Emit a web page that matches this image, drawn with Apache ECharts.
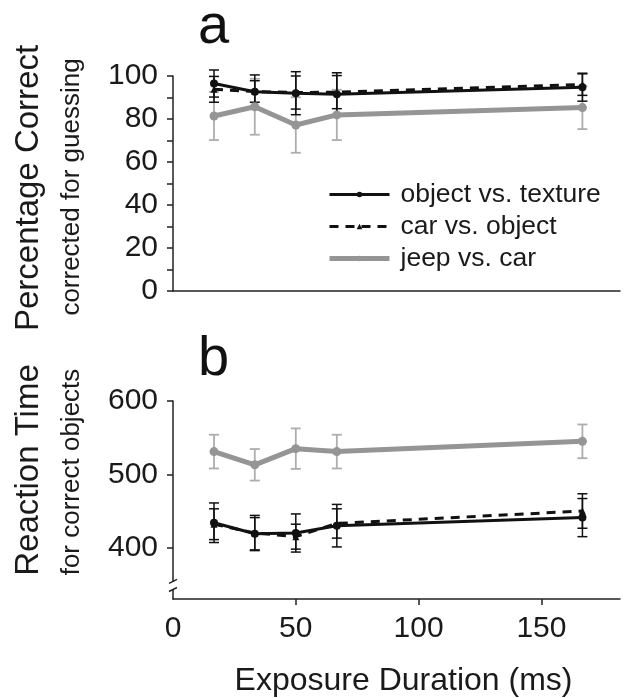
<!DOCTYPE html>
<html>
<head>
<meta charset="utf-8">
<script src="https://cdn.jsdelivr.net/npm/echarts@6/dist/echarts.min.js"></script>
<style>
html,body{margin:0;padding:0;background:#fff;}
#main{width:634px;height:698px;}
</style>
</head>
<body>
<div id="main"></div>
<script>
// ---- data ----
const durations = [16.7, 33.3, 50, 66.7, 166.7];
const seriesNames = ['object vs. texture', 'car vs. object', 'jeep vs. car'];

// panel a: percentage correct (corrected for guessing)
const pcObject = [96.5, 92.7, 92.0, 91.5, 94.8];
const pcObjectErr = [6.3, 7.8, 10.0, 10.0, 6.5];
const pcCar = [93.8, 92.8, 92.3, 92.5, 96.0];
const pcCarErr = [6.0, 5.0, 7.7, 7.7, 5.0];
const pcJeep = [81.4, 85.7, 77.2, 81.9, 85.3];
const pcJeepErr = [11.2, 13.0, 12.9, 11.7, 10.0];

// panel b: reaction time (correct objects)
const rtObject = [434, 419, 420, 430, 441];
const rtObjectErr = [27, 22, 26, 29, 26];
const rtCar = [432, 420, 415, 433, 450];
const rtCarErr = [21, 24, 17, 20, 23.5];
const rtJeep = [531, 513, 535, 531, 545];
const rtJeepErr = [23, 21.5, 27.6, 23, 23];

const xTickValues = [50, 100, 150];
const xLabelValues = [0, 50, 100, 150];
const pcLabels = [0, 20, 40, 60, 80, 100];
const pcTickValues = [0, 10, 20, 30, 40, 50, 60, 70, 80, 90, 100];
const rtTicks = [400, 500, 600];

// ---- helpers ----
const FONT = '"Liberation Sans", Arial, Helvetica, sans-serif';
const BLACK = '#111111';
const GRAY = '#959595';
const GRAY_ERR = '#adadad';

function pairs(vals) { return vals.map((v, i) => [durations[i], v]); }
function errData(vals, errs) { return vals.map((v, i) => [durations[i], v - errs[i], v + errs[i]]); }

function errSeries(name, idx, vals, errs, color, width) {
  return {
    name: name + ' (error)',
    type: 'custom',
    xAxisIndex: idx, yAxisIndex: idx,
    data: errData(vals, errs),
    encode: { x: 0, y: [1, 2] },
    clip: false,
    silent: true,
    z: 1,
    itemStyle: { color: color },
    renderItem: function (params, api) {
      const x = api.value(0);
      const top = api.coord([x, api.value(2)]);
      const bot = api.coord([x, api.value(1)]);
      const hw = 5;
      const st = { stroke: color, lineWidth: width };
      return {
        type: 'group',
        children: [
          { type: 'line', shape: { x1: top[0], y1: top[1], x2: bot[0], y2: bot[1] }, style: st },
          { type: 'line', shape: { x1: top[0] - hw, y1: top[1], x2: top[0] + hw, y2: top[1] }, style: st },
          { type: 'line', shape: { x1: bot[0] - hw, y1: bot[1], x2: bot[0] + hw, y2: bot[1] }, style: st }
        ]
      };
    }
  };
}

function lineSeries(name, idx, vals, color, width, dash, symbol, size) {
  return {
    name: name,
    type: 'line',
    xAxisIndex: idx, yAxisIndex: idx,
    data: pairs(vals),
    symbol: symbol,
    symbolSize: size,
    showSymbol: true,
    clip: false,
    z: 3,
    color: color,
    lineStyle: { color: color, width: width, type: dash ? [9, 7] : 'solid' },
    itemStyle: { color: color },
    emphasis: { disabled: true }
  };
}

const axisLbl = { fontFamily: FONT, fontSize: 30, color: '#1a1a1a' };

const option = {
  animation: false,
  backgroundColor: '#ffffff',
  textStyle: { fontFamily: FONT },
  legend: {
    data: [
      { name: seriesNames[0], lineStyle: { width: 3 } },
      { name: seriesNames[1], lineStyle: { width: 3 } },
      { name: seriesNames[2], lineStyle: { width: 5 } }
    ],
    orient: 'vertical',
    left: 322,
    top: 176,
    itemWidth: 60,
    itemHeight: 7,
    itemGap: 5,
    textStyle: { fontFamily: FONT, fontSize: 26.5, color: '#1a1a1a', padding: [0, 0, 0, 6] },
    selectedMode: false
  },
  grid: [
    { left: 173, right: 14, top: 76, height: 215, containLabel: false },
    { left: 173, right: 14, top: 401, height: 200, containLabel: false }
  ],
  xAxis: [
    {
      gridIndex: 0, type: 'value', min: 0, max: 182,
      axisLine: { show: true, onZero: false, lineStyle: { color: '#222', width: 1.5 } },
      axisTick: { show: false },
      axisLabel: { show: false },
      splitLine: { show: false }
    },
    {
      gridIndex: 1, type: 'value', min: 0, max: 182,
      axisLine: { show: true, onZero: false, lineStyle: { color: '#222', width: 1.5 } },
      axisTick: { show: true, customValues: xTickValues, length: 6, lineStyle: { color: '#222', width: 1.5 } },
      axisLabel: Object.assign({ customValues: xLabelValues, margin: 15 }, axisLbl),
      splitLine: { show: false },
      name: 'Exposure Duration (ms)',
      nameLocation: 'middle',
      nameGap: 66,
      nameTextStyle: { fontFamily: FONT, fontSize: 32, color: '#1a1a1a', padding: [0, 0, 0, 14] }
    }
  ],
  yAxis: [
    {
      gridIndex: 0, type: 'value', min: 0, max: 100,
      axisLine: { show: true, onZero: false, lineStyle: { color: '#222', width: 1.5 } },
      axisTick: { show: true, customValues: pcTickValues, length: 6, lineStyle: { color: '#222', width: 1.5 } },
      axisLabel: Object.assign({ customValues: pcLabels, margin: 15 }, axisLbl),
      splitLine: { show: false }
    },
    {
      gridIndex: 1, type: 'value', min: 330, max: 600,
      axisLine: { show: true, onZero: false, lineStyle: { color: '#222', width: 1.5 } },
      axisTick: { show: true, customValues: rtTicks, length: 6, lineStyle: { color: '#222', width: 1.5 } },
      axisLabel: Object.assign({ customValues: rtTicks, margin: 15 }, axisLbl),
      splitLine: { show: false }
    }
  ],
  series: [
    errSeries('jeep vs. car', 0, pcJeep, pcJeepErr, GRAY_ERR, 1.8),
    errSeries('car vs. object', 0, pcCar, pcCarErr, BLACK, 1.5),
    errSeries('object vs. texture', 0, pcObject, pcObjectErr, BLACK, 1.5),
    lineSeries('jeep vs. car', 0, pcJeep, GRAY, 5, false, 'circle', 9),
    lineSeries('car vs. object', 0, pcCar, BLACK, 3, true, 'triangle', 7),
    lineSeries('object vs. texture', 0, pcObject, BLACK, 3, false, 'circle', 8),

    errSeries('jeep vs. car', 1, rtJeep, rtJeepErr, GRAY_ERR, 1.8),
    errSeries('car vs. object', 1, rtCar, rtCarErr, BLACK, 1.5),
    errSeries('object vs. texture', 1, rtObject, rtObjectErr, BLACK, 1.5),
    lineSeries('jeep vs. car', 1, rtJeep, GRAY, 5, false, 'circle', 9),
    lineSeries('car vs. object', 1, rtCar, BLACK, 3, true, 'triangle', 7),
    lineSeries('object vs. texture', 1, rtObject, BLACK, 3, false, 'circle', 8)
  ],
  graphic: [
    { type: 'text', left: 198, top: 0, style: { text: 'a', font: '56px ' + FONT, fill: '#111' } },
    { type: 'text', left: 198, top: 332, style: { text: 'b', font: '56px ' + FONT, fill: '#111' } },
    { type: 'text', x: 29, y: 188, rotation: Math.PI / 2,
      style: { text: 'Percentage Correct', font: '33px ' + FONT, fill: '#1a1a1a', align: 'center', verticalAlign: 'middle' } },
    { type: 'text', x: 72, y: 187, rotation: Math.PI / 2,
      style: { text: 'corrected for guessing', font: '26px ' + FONT, fill: '#1a1a1a', align: 'center', verticalAlign: 'middle' } },
    { type: 'text', x: 29, y: 470, rotation: Math.PI / 2,
      style: { text: 'Reaction Time', font: '33px ' + FONT, fill: '#1a1a1a', align: 'center', verticalAlign: 'middle' } },
    { type: 'text', x: 72, y: 472, rotation: Math.PI / 2,
      style: { text: 'for correct objects', font: '26px ' + FONT, fill: '#1a1a1a', align: 'center', verticalAlign: 'middle' } }
  ]
};

const chart = echarts.init(document.getElementById('main'), null, { renderer: 'canvas' });
chart.setOption(option);

// axis break marks on the reaction-time y axis
const pTop = chart.convertToPixel({ gridIndex: 1 }, [0, 354]);
const pBot = chart.convertToPixel({ gridIndex: 1 }, [0, 343]);
const brk = [
  { type: 'rect', z: 100, shape: { x: pTop[0] - 4, y: pTop[1], width: 8, height: pBot[1] - pTop[1] }, style: { fill: '#fff' } },
  { type: 'line', z: 101, shape: { x1: pTop[0] - 4, y1: pTop[1] + 2, x2: pTop[0] + 4, y2: pTop[1] - 2 }, style: { stroke: '#222', lineWidth: 1.5 } },
  { type: 'line', z: 101, shape: { x1: pBot[0] - 4, y1: pBot[1] + 2, x2: pBot[0] + 4, y2: pBot[1] - 2 }, style: { stroke: '#222', lineWidth: 1.5 } }
];
chart.setOption({ graphic: option.graphic.concat(brk) });
</script>
</body>
</html>
